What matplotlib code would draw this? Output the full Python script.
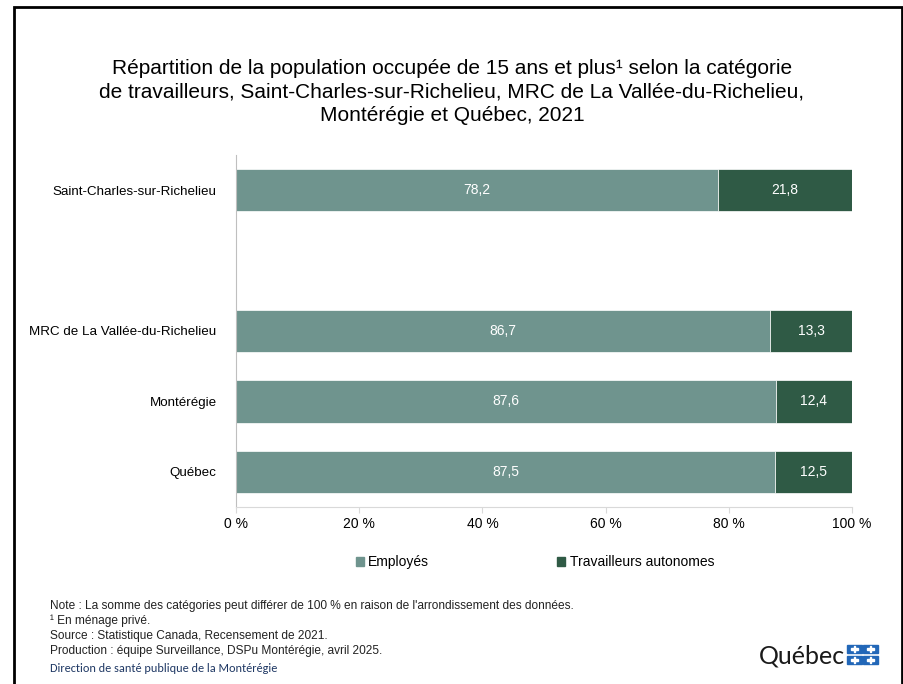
import matplotlib.pyplot as plt
from matplotlib.patches import Rectangle
import numpy as np

plt.rcParams['font.family'] = ['Liberation Sans Narrow', 'Liberation Sans', 'DejaVu Sans']

# data
regions = ['Saint-Charles-sur-Richelieu', '', 'MRC de La Vallée-du-Richelieu', 'Montérégie', 'Québec']
employes = [78.2, None, 86.7, 87.6, 87.5]
autonomes = [21.8, None, 13.3, 12.4, 12.5]
series_names = ['Employés', 'Travailleurs autonomes']
xticks = [0, 20, 40, 60, 80, 100]

col_emp = '#6f948e'
col_aut = '#2f5a45'

fig = plt.figure(figsize=(9.04, 6.84), dpi=100)
W, H = 904, 684
ax = fig.add_axes([236 / W, 1 - 507 / H, (852 - 236) / W, (507 - 155) / H])

y = np.arange(len(regions))
for i in range(len(regions)):
    if employes[i] is None:
        continue
    ax.barh(y[i], employes[i], height=0.6, color=col_emp, edgecolor='white', linewidth=0.5)
    ax.barh(y[i], autonomes[i], left=employes[i], height=0.6, color=col_aut,
            edgecolor='white', linewidth=0.5)
    ax.text(employes[i] / 2, y[i], f'{employes[i]:.1f}'.replace('.', ','),
            ha='center', va='center', color='white', fontsize=10)
    ax.text(employes[i] + autonomes[i] / 2, y[i], f'{autonomes[i]:.1f}'.replace('.', ','),
            ha='center', va='center', color='white', fontsize=10)

ax.set_xlim(0, 100)
ax.set_ylim(len(regions) - 0.5, -0.5)
ax.set_xticks(xticks)
ax.set_xticklabels([f'{t} %' for t in xticks], fontsize=10)
ax.set_yticks([i for i in y if regions[i]])
ax.set_yticklabels([r for r in regions if r], fontsize=9.6)
for s in ['top', 'right']:
    ax.spines[s].set_visible(False)
ax.spines['left'].set_color('#bfbfbf')
ax.spines['bottom'].set_color('#d9d9d9')
ax.tick_params(axis='y', length=0, pad=14)
ax.tick_params(axis='x', length=4, color='#d9d9d9', pad=3)

# legend
fig.legend(handles=[Rectangle((0, 0), 1, 1, color=col_emp), Rectangle((0, 0), 1, 1, color=col_aut)],
           labels=series_names, loc='center', bbox_to_anchor=(535 / W, 1 - 562 / H), ncol=2,
           frameon=False, fontsize=10, handlelength=0.6, handleheight=0.6,
           handletextpad=0.3, columnspacing=9.2)

fig.text(0.5, 1 - 92 / H,
         'Répartition de la population occupée de 15 ans et plus¹ selon la catégorie\n'
         'de travailleurs, Saint-Charles-sur-Richelieu, MRC de La Vallée-du-Richelieu,\n'
         'Montérégie et Québec, 2021',
         ha='center', va='center', fontsize=15, linespacing=1.33)

notes = ["Note : La somme des catégories peut différer de 100 % en raison de l'arrondissement des données.",
         '¹ En ménage privé.',
         'Source : Statistique Canada, Recensement de 2021.',
         'Production : équipe Surveillance, DSPu Montérégie, avril 2025.']
for k, n in enumerate(notes):
    fig.text(50 / W, 1 - (606 + k * 15) / H, n, fontsize=8.6, va='center', color='#222222')
fig.text(50 / W, 1 - 668 / H, 'Direction de santé publique de la Montérégie', fontsize=8.8,
         va='center', color='#1f3864', family=['Carlito', 'Liberation Sans Narrow', 'DejaVu Sans'])

# logo
fig.text(759 / W, 1 - 656 / H, 'Québec', fontsize=18, va='center', color='#1a1a1a',
         family=['Lato', 'DejaVu Sans'])
for dx in (0, 1):
    for dy in (0, 1):
        x0 = 847 + dx * 16
        y0 = 645 + dy * 11
        fig.patches.append(Rectangle((x0 / W, 1 - (y0 + 8) / H), 15 / W, 8 / H,
                                     transform=fig.transFigure, color='#2267b8'))
        fig.patches.append(Rectangle(((x0 + 7) / W, 1 - (y0 + 7) / H), 1.2 / W, 6 / H,
                                     transform=fig.transFigure, color='white'))
        fig.patches.append(Rectangle(((x0 + 4) / W, 1 - (y0 + 4.6) / H), 7 / W, 1.2 / H,
                                     transform=fig.transFigure, color='white'))

# frame
fig.patches.append(Rectangle((14 / W, -0.01), (W - 16) / W, 1 - 7 / H + 0.01,
                             transform=fig.transFigure, fill=False, edgecolor='black', linewidth=2))

fig.savefig('out.png', dpi=100)
